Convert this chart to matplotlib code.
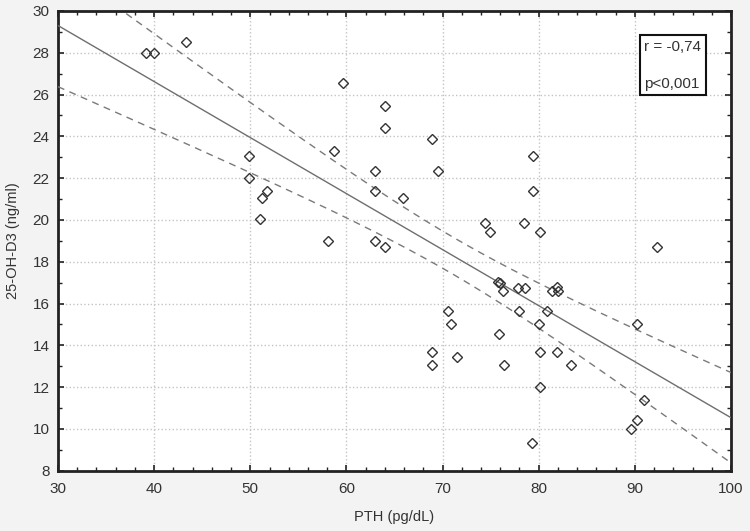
import numpy as np
import matplotlib
matplotlib.use('Agg')
import matplotlib.pyplot as plt
from matplotlib.ticker import MultipleLocator

plt.rcParams['font.family'] = ['Liberation Sans', 'DejaVu Sans']

# PTH (pg/dL) vs 25-OH-D3 (ng/ml)
pth = [39.2, 40.0, 43.3, 49.9, 49.9, 51.7, 51.2, 51.0, 58.1, 59.6,
       58.7, 64.0, 64.0, 63.0, 63.0, 65.9, 63.0, 64.0, 68.9, 69.5,
       74.4, 74.9, 79.4, 79.4, 78.5, 80.1, 92.3, 75.8, 76.0, 76.3,
       77.8, 78.6, 81.4, 81.9, 82.0, 77.9, 80.9, 80.0, 90.2, 75.9,
       80.1, 81.9, 76.4, 83.4, 80.1, 90.9, 90.2, 89.6, 79.3, 70.6,
       70.9, 68.9, 68.9, 71.5]
vitd = [28.0, 28.0, 28.5, 23.05, 22.02, 21.4, 21.05, 20.03, 19.0, 26.55,
        23.3, 25.45, 24.42, 22.36, 21.4, 21.05, 19.0, 18.72, 23.88, 22.36,
        19.84, 19.43, 23.05, 21.4, 19.84, 19.43, 18.72, 17.03, 16.98, 16.62,
        16.75, 16.75, 16.62, 16.78, 16.59, 15.65, 15.65, 15.02, 15.02, 14.55,
        13.67, 13.67, 13.05, 13.05, 12.0, 11.4, 10.43, 10.0, 9.34, 15.65,
        15.02, 13.67, 13.05, 13.44]
stats_text = ['r = -0,74', 'p<0,001']

x = np.array(pth)
y = np.array(vitd)
n = len(x)

# linear fit and 95% confidence band of the mean
b1, b0 = np.polyfit(x, y, 1)
resid = y - (b0 + b1 * x)
s = np.sqrt(np.sum(resid ** 2) / (n - 2))
sxx = np.sum((x - x.mean()) ** 2)
t975 = 2.007
xf = np.linspace(30, 100, 200)
yf = b0 + b1 * xf
half = t975 * s * np.sqrt(1.0 / n + (xf - x.mean()) ** 2 / sxx)

fig = plt.figure(figsize=(7.5, 5.31), dpi=100, facecolor='#f3f3f3')
ax = fig.add_axes([0.0773, 0.1136, 0.8974, 0.8657])
ax.set_facecolor('white')

ax.plot(xf, yf, color='#6e6e6e', linewidth=1.0, zorder=3)
ax.plot(xf, yf + half, color='#7a7a7a', linewidth=1.0, linestyle=(0, (5, 4)), zorder=3)
ax.plot(xf, yf - half, color='#7a7a7a', linewidth=1.0, linestyle=(0, (5, 4)), zorder=3)
ax.plot(x, y, linestyle='none', marker='D', markersize=5.5, markerfacecolor='none',
        markeredgecolor='#333333', markeredgewidth=1.0, zorder=4)

ax.set_xlim(30, 100)
ax.set_ylim(8, 30)
ax.xaxis.set_major_locator(MultipleLocator(10))
ax.xaxis.set_minor_locator(MultipleLocator(2))
ax.yaxis.set_major_locator(MultipleLocator(2))
ax.yaxis.set_minor_locator(MultipleLocator(1))
ax.tick_params(which='both', direction='in', top=True, right=True, color='#222222',
               labelsize=11, labelcolor='#333333')
ax.tick_params(axis='x', which='major', pad=8.5)
ax.tick_params(axis='y', which='major', pad=6)
ax.tick_params(which='major', length=4, width=1.2)
ax.tick_params(which='minor', length=3, width=1.0)
ax.grid(True, which='major', linestyle=':', color='#c4c4c4', linewidth=1.0)
ax.set_axisbelow(True)
for sp in ax.spines.values():
    sp.set_linewidth(2.0)
    sp.set_color('#222222')

ax.set_xlabel('PTH (pg/dL)', fontsize=10.5, color='#333333', labelpad=10)
ax.set_ylabel('25-OH-D3 (ng/ml)', fontsize=10.5, color='#333333', labelpad=9)

ax.text(0.871, 0.937, stats_text[0] + '\n\n' + stats_text[1], transform=ax.transAxes,
        fontsize=11, color='#333333', va='top', ha='left', linespacing=1.4,
        bbox=dict(boxstyle='square,pad=0.3', facecolor='white', edgecolor='#111111', linewidth=1.5))

fig.savefig('out.png', dpi=100, facecolor=fig.get_facecolor())
